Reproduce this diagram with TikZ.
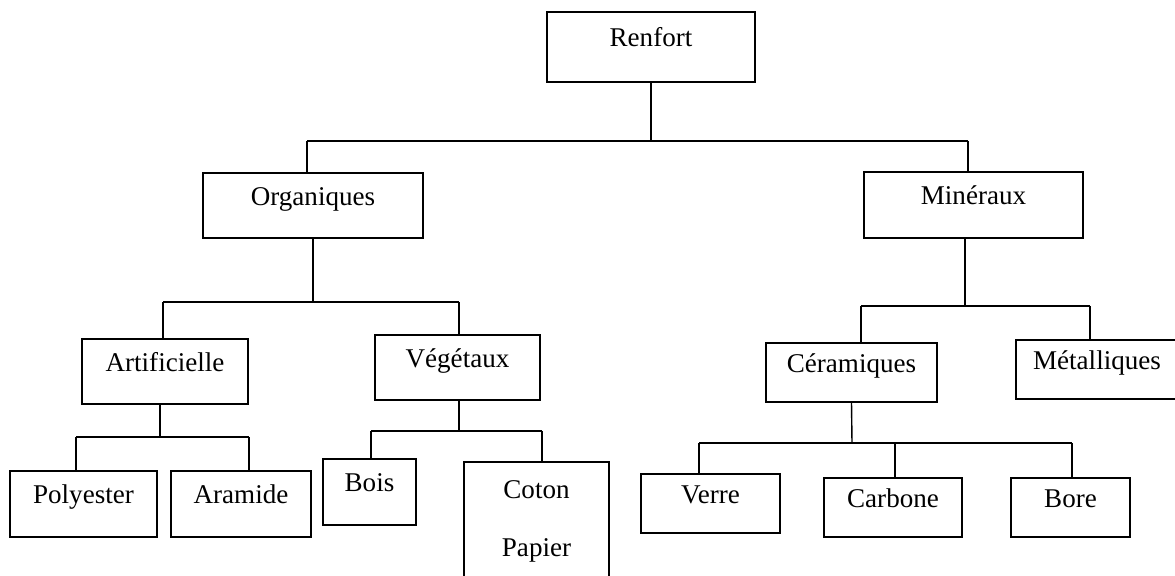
\documentclass[tikz,border=0pt]{standalone}
\usepackage[svgnames]{xcolor}
\usepackage{fontspec}
\setmainfont{Liberation Serif}
\tikzstyle{none}=[inner sep=0pt]
\tikzstyle{frame}=[draw=Black,line width=1.1pt,inner sep=0pt,font=\fontsize{15.4}{18}\selectfont]
\tikzstyle{box}=[frame,text height=0.7em,text depth=0.7em]
\tikzstyle{simple}=[-,draw=Black,line width=0.8pt]
\pgfdeclarelayer{edgelayer}
\pgfdeclarelayer{nodelayer}
\pgfsetlayers{edgelayer,nodelayer,main}
\begin{document}
\begin{tikzpicture}
	\useasboundingbox (0, 0) rectangle (23.5, 11.52);
	\begin{pgfonlayer}{nodelayer}
		\node [style=box, minimum width=4.16cm, minimum height=1.40cm] (0) at (13.02, 10.58) {Renfort};
		\node [style=box, minimum width=4.40cm, minimum height=1.30cm] (1) at (6.26, 7.41) {Organiques};
		\node [style=box, minimum width=4.38cm, minimum height=1.32cm] (2) at (19.47, 7.42) {Minéraux};
		\node [style=box, minimum width=3.32cm, minimum height=1.30cm] (3) at (3.30, 4.09) {Artificielle};
		\node [style=box, minimum width=3.30cm, minimum height=1.30cm] (4) at (9.15, 4.17) {Végétaux};
		\node [style=box, minimum width=2.94cm, minimum height=1.32cm] (5) at (1.67, 1.44) {Polyester};
		\node [style=box, minimum width=2.80cm, minimum height=1.32cm] (6) at (4.82, 1.44) {Aramide};
		\node [style=box, minimum width=1.86cm, minimum height=1.32cm] (7) at (7.39, 1.68) {Bois};
		\node [style=frame, align=center, minimum width=2.90cm, minimum height=2.36cm] (8) at (10.73, 1.10) {Coton\\[0.97em]Papier};
		\node [style=box, minimum width=3.42cm, minimum height=1.18cm] (9) at (17.03, 4.07) {Céramiques};
		\node [style=box, minimum width=3.24cm, minimum height=1.18cm] (10) at (21.94, 4.13) {Métalliques};
		\node [style=box, minimum width=2.78cm, minimum height=1.18cm] (11) at (14.21, 1.45) {Verre};
		\node [style=box, minimum width=2.76cm, minimum height=1.18cm] (12) at (17.86, 1.37) {Carbone};
		\node [style=box, minimum width=2.38cm, minimum height=1.18cm] (13) at (21.41, 1.37) {Bore};

		% bus points
		\node [style=none] (20) at (13.02, 8.70) {};
		\node [style=none] (21) at (6.14, 8.70) {};
		\node [style=none] (22) at (19.36, 8.70) {};
		\node [style=none] (23) at (6.26, 5.48) {};
		\node [style=none] (24) at (3.26, 5.48) {};
		\node [style=none] (25) at (9.18, 5.48) {};
		\node [style=none] (26) at (3.20, 2.78) {};
		\node [style=none] (27) at (1.52, 2.78) {};
		\node [style=none] (28) at (4.98, 2.78) {};
		\node [style=none] (29) at (9.18, 2.90) {};
		\node [style=none] (30) at (7.42, 2.90) {};
		\node [style=none] (31) at (10.84, 2.90) {};
		\node [style=none] (32) at (19.30, 5.40) {};
		\node [style=none] (33) at (17.22, 5.40) {};
		\node [style=none] (34) at (21.80, 5.40) {};
		\node [style=none] (35) at (17.04, 2.66) {};
		\node [style=none] (36) at (13.98, 2.66) {};
		\node [style=none] (37) at (17.90, 2.66) {};
		\node [style=none] (38) at (21.44, 2.66) {};
	\end{pgfonlayer}
	\begin{pgfonlayer}{edgelayer}
		\draw [style=simple] (0.south) to (20.center);
		\draw [style=simple] (21.center) to (22.center);
		\draw [style=simple] (21.center) to (21.center |- 1.north);
		\draw [style=simple] (22.center) to (22.center |- 2.north);

		\draw [style=simple] (1.south) to (23.center);
		\draw [style=simple] (24.center) to (25.center);
		\draw [style=simple] (24.center) to (24.center |- 3.north);
		\draw [style=simple] (25.center) to (25.center |- 4.north);

		\draw [style=simple] (26.center |- 3.south) to (26.center);
		\draw [style=simple] (27.center) to (28.center);
		\draw [style=simple] (27.center) to (27.center |- 5.north);
		\draw [style=simple] (28.center) to (28.center |- 6.north);

		\draw [style=simple] (29.center |- 4.south) to (29.center);
		\draw [style=simple] (30.center) to (31.center);
		\draw [style=simple] (30.center) to (30.center |- 7.north);
		\draw [style=simple] (31.center) to (31.center |- 8.north);

		\draw [style=simple] (32.center |- 2.south) to (32.center);
		\draw [style=simple] (33.center) to (34.center);
		\draw [style=simple] (33.center) to (33.center |- 9.north);
		\draw [style=simple] (34.center) to (34.center |- 10.north);

		\draw [style=simple] (9.south) to (35.center);
		\draw [style=simple] (36.center) to (38.center);
		\draw [style=simple] (36.center) to (36.center |- 11.north);
		\draw [style=simple] (37.center) to (37.center |- 12.north);
		\draw [style=simple] (38.center) to (38.center |- 13.north);
	\end{pgfonlayer}
\end{tikzpicture}
\end{document}
